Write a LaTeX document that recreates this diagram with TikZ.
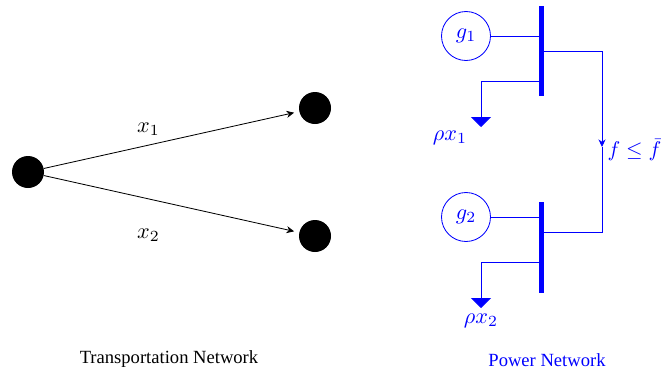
\documentclass[tikz,border=0pt]{standalone}
\usepackage[no-math]{fontspec}
\setmainfont{Liberation Serif}
\usetikzlibrary{arrows.meta}
\tikzset{
  hub/.style={circle,fill=black,inner sep=0pt,minimum size=19.2pt},
  bus/.style={rectangle,fill=blue,inner sep=0pt,minimum width=3pt,minimum height=54.3pt},
  gen/.style={circle,draw=blue,text=blue,inner sep=0pt,minimum size=22.1pt,scale=1.33},
  tip/.style={-{Stealth[length=4.5pt,width=4.2pt,inset=1.4pt]}},
  load/.style={blue,-{Triangle[length=6pt,width=12pt]}},
  flow/.style={inner sep=0pt,scale=1.33},
  power/.style={flow,text=blue},
  heading/.style={inner sep=0pt,font=\fontsize{11.15}{13}\selectfont}
}

\begin{document}
\begin{tikzpicture}[x=0.6pt,y=-0.6pt,line width=0.5pt]
  \useasboundingbox (0,0) rectangle (661,372);
  % transportation side
  \node[hub] (s) at (28,172) {};
  \node[hub] (t1) at (315,108) {};
  \node[hub] (t2) at (315,236) {};
  \draw[tip,shorten >=3pt] (s) -- (t1);
  \draw[tip,shorten >=3pt] (s) -- (t2);
  \node[flow] (x1) at (148.5,129) {$x_1$};
  \node[flow] (x2) at (148.5,235) {$x_2$};
  \node[heading] (ttitle) at (169,359.5) {Transportation Network};
  % power side
  \node[bus] (bus1) at (541.5,51) {};
  \node[bus] (bus2) at (541.5,247.5) {};
  \node[gen] (g1) at (466,36) {$g_1$};
  \node[gen] (g2) at (466,217) {$g_2$};
  \coordinate (l1) at (481,127);
  \coordinate (l2) at (481,308);
  \coordinate (mid) at (602,147);
  \draw[blue] (g1) -- (g1 -| bus1.west);
  \draw[blue] (g2) -- (g2 -| bus2.west);
  \draw[load] (bus1.west |- 0,81) -| (l1);
  \draw[load] (bus2.west |- 0,262) -| (l2);
  \draw[blue,tip] (bus1.east) -| (mid);
  \draw[blue] (mid) |- (bus2.east |- 0,232);
  \node[power] (r1) at (450,137.5) {$\rho x_1$};
  \node[power] (r2) at (481,320.5) {$\rho x_2$};
  \node[power,scale=0.96] (cap) at (634.5,150) {$f\leq\bar{f}$};
  \node[heading,text=blue] (ptitle) at (547,360.5) {Power Network};
\end{tikzpicture}
\end{document}
